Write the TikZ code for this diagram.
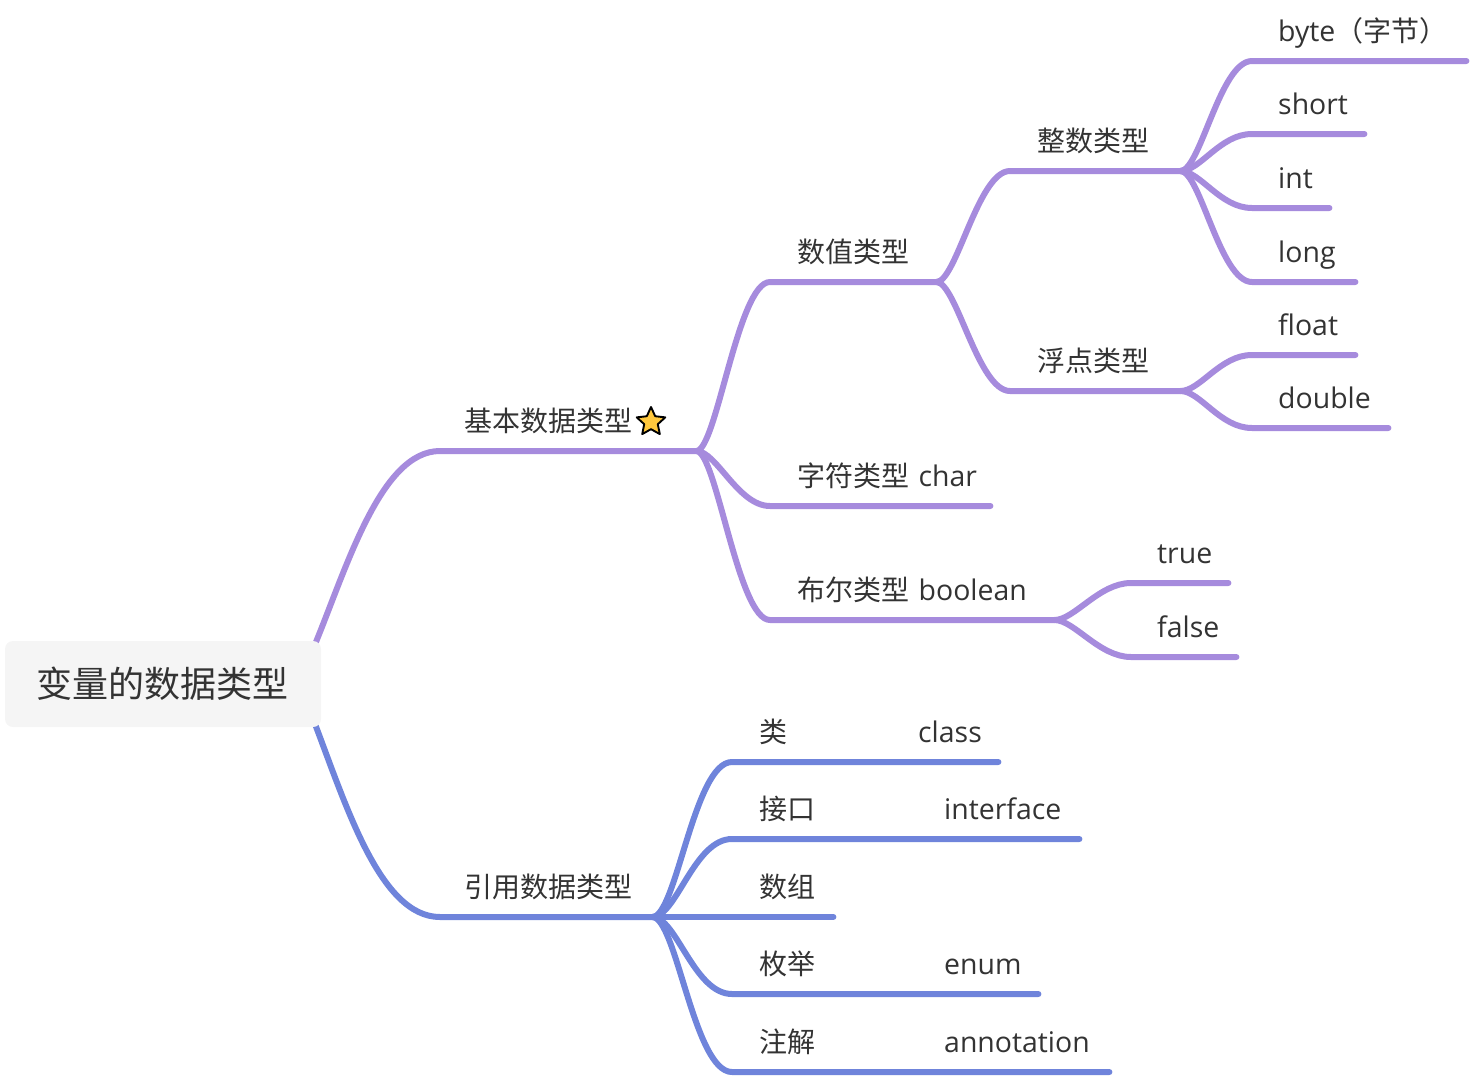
\documentclass[tikz,border=0pt]{standalone}
\usepackage{fontspec}
\setmainfont[Scale=1.015]{Open Sans}
\newfontfamily\cjk{Noto Sans CJK SC}
\usetikzlibrary{shapes.geometric,backgrounds}
\definecolor{lilac}{HTML}{A68BDD}
\definecolor{cornflower}{HTML}{6F84DB}
\definecolor{inkgray}{HTML}{333333}
\definecolor{rootgray}{HTML}{F5F5F5}
\definecolor{stargold}{HTML}{FFC83D}
\tikzset{
  topic/.style={inner sep=0pt, anchor=south west, text depth=19pt, text width=#1pt, align=left,
    text=inkgray, font=\fontsize{28}{34}\selectfont, execute at begin node={\hspace*{\lblgap}}},
  branch/.style={line width=6pt, line cap=round, line join=round},
  rootbox/.style={fill=rootgray, rounded corners=8pt, text=inkgray, font=\fontsize{36}{42}\selectfont,
    minimum width=316pt, minimum height=86pt, inner sep=0pt}
}
\newlength{\lblgap}
\setlength{\lblgap}{26pt}
\begin{document}
\begin{tikzpicture}[x=1pt,y=-1pt]
\useasboundingbox (0,0) rectangle (1472,1076);

\node[rootbox] (root) at (163,684) {\hspace*{-2pt}\cjk 变量的数据类型};

% purple side
\node[topic=256] (basic) at (440,451) {\hspace*{-2pt}\cjk 基本数据类型};
\node[star, star points=5, star point ratio=2.1, draw=black, fill=stargold, line width=1.9pt, line join=round,
  minimum size=30pt, inner sep=0pt] (mark) at (651,422) {};
\node[topic=166] (num) at (770,282) {\hspace*{1pt}\cjk 数值类型};
\node[topic=220] (chr) at (770,506) {\hspace*{1pt}{\cjk 字符类型} char};
\node[topic=284] (bool) at (770,620) {\hspace*{1pt}{\cjk 布尔类型} boolean};
\node[topic=170] (whole) at (1010,171) {\hspace*{1pt}\cjk 整数类型};
\node[topic=170] (flt) at (1010,391) {\hspace*{1pt}\cjk 浮点类型};
\node[topic=214] (byte) at (1252,61) {byte{\cjk （字节）}};
\node[topic=112] (short) at (1252,134) {short};
\node[topic=77] (int) at (1252,208) {int};
\node[topic=103] (long) at (1252,282) {long};
\node[topic=103] (float) at (1252,355) {float};
\node[topic=136] (double) at (1252,428) {double};
\node[topic=97] (true) at (1131,583) {true};
\node[topic=105] (false) at (1131,657) {false};

% blue side
\node[topic=212] (ref) at (440,917) {\hspace*{-2pt}\cjk 引用数据类型};
\node[topic=266] (class) at (732,762) {\hspace*{1pt}{\cjk 类}\hspace{131pt}class};
\node[topic=347] (iface) at (732,839) {\hspace*{1pt}{\cjk 接口}\hspace{129pt}interface};
\node[topic=101] (arr) at (732,917) {\hspace*{1pt}\cjk 数组};
\node[topic=306] (enum) at (732,994) {\hspace*{1pt}{\cjk 枚举}\hspace{129pt}enum};
\node[topic=377] (anno) at (732,1072) {\hspace*{1pt}{\cjk 注解}\hspace{129pt}annotation};

\begin{scope}[on background layer]
\draw[branch, lilac] ([shift={(-8,8)}]root.north east) .. controls (346,570) and (380,451) .. (basic.south west) -- (basic.south east);
\draw[branch, cornflower] ([shift={(-8,-8)}]root.south east) .. controls (346,805) and (380,917) .. (ref.south west) -- (ref.south east);
\foreach \from/\to in {basic/num,basic/chr,basic/bool,num/whole,num/flt,whole/byte,whole/short,whole/int,whole/long,flt/float,flt/double,bool/true,bool/false}
  \draw[branch, lilac] (\from.south east) .. controls +(20,0) and +(-32,0) .. (\to.south west) -- (\to.south east);
\foreach \to in {class,iface,arr,enum,anno}
  \draw[branch, cornflower] (ref.south east) .. controls +(24,0) and +(-38,0) .. (\to.south west) -- (\to.south east);
\end{scope}
\end{tikzpicture}
\end{document}
